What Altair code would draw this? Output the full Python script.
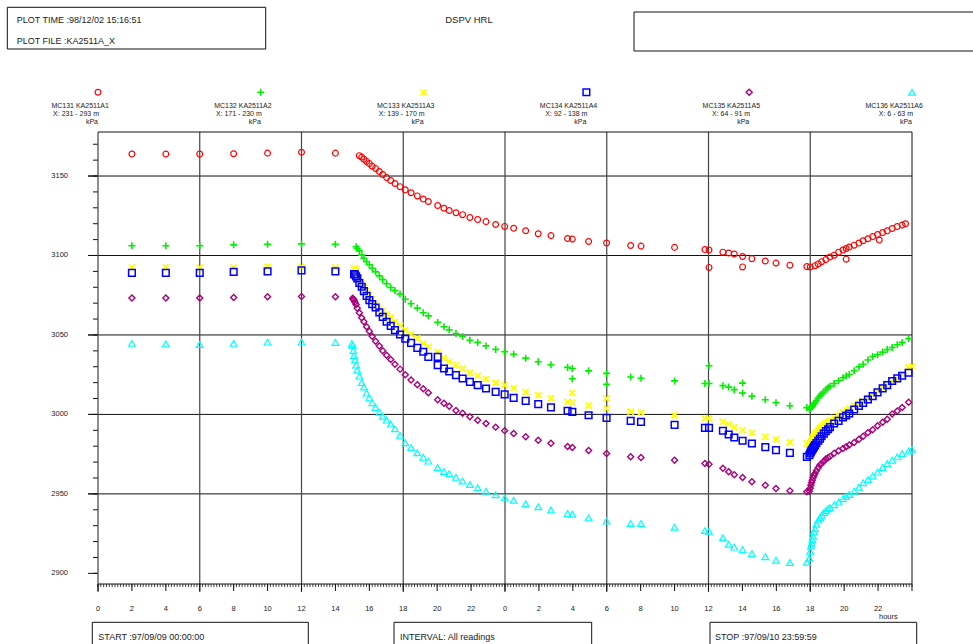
import altair as alt
import pandas as pd

# ---------------- data ----------------
HOURS_P1 = [2, 4, 6, 8, 10, 12, 14]
HOURS_P2 = [14.97, 15.02, 15.06, 15.10, 15.15, 15.22, 15.29,
            15.41, 15.55, 15.68, 15.84, 16.00, 16.17, 16.37, 16.59, 16.79, 17.02,
            17.26, 17.51, 17.81, 18.12, 18.46, 18.83, 19.18, 19.48, 20.03, 20.40,
            20.71, 21.11, 21.50, 21.93, 22.39, 22.88, 23.45, 23.98, 24.51, 25.22,
            25.96, 26.71, 27.69, 27.97, 28.93, 29.99, 31.41, 32.02, 34.00, 35.79,
            36.03, 36.85, 37.19, 37.52, 38.01, 38.56, 39.35, 39.98, 40.80, 41.80]
HOURS_P3 = [41.95, 42.00, 42.04, 42.08, 42.12, 42.17, 42.22, 42.28, 42.36, 42.47,
            42.57, 42.67, 42.80, 42.92, 43.05, 43.16, 43.41, 43.67, 43.93, 44.12,
            44.30, 44.59, 44.87, 45.12, 45.40, 45.68, 45.97, 46.27, 46.54, 46.83,
            47.13, 47.42, 47.80, 48.00]
N = None

RED_P1 = [3163.8, 3163.8, 3163.8, 3164.0, 3164.4, 3164.9, 3164.4]
RED_P2 = [N, N, N, N, N, N, N,
          3162.8, 3161.9, 3160.6, 3159.2, 3157.8, 3156.2, 3154.8, 3152.8, 3150.9, 3149.0,
          3147.2, 3145.3, 3143.3, 3141.3, 3139.5, 3137.5, 3135.5, 3134.0, 3131.4, 3129.7,
          3128.3, 3126.9, 3125.7, 3123.9, 3122.6, 3121.3, 3119.5, 3118.3, 3117.1, 3115.6,
          3113.7, 3112.5, 3110.7, 3110.3, 3108.8, 3107.8, 3106.3, 3105.9, 3105.1, 3103.7,
          3103.4, 3102.1, 3101.5, 3100.9, 3099.4, 3098.0, 3096.5, 3095.2, 3093.9, 3093.0]
RED_P3 = [N, 3092.8, N, N, N, N, N, 3093.6, N, 3094.7,
          N, 3096.1, N, 3097.4, N, 3099.0, 3100.2, 3102.1, 3103.4, 3104.4,
          3105.3, 3106.5, 3107.8, 3109.3, 3110.5, 3111.9, 3113.2, 3114.4, 3115.5, 3117.0,
          3118.2, 3119.1, N, N]
RED_XH = [36.03, 38.01, 44.12, 46.07, 47.62]
RED_XV = [3092.5, 3092.8, 3097.7, 3109.7, 3120.0]

GREEN_P1 = [3106.1, 3106.1, 3106.1, 3106.7, 3107.1, 3107.3, 3107.1]
GREEN_P2 = [N, N, N, N, N, 3105.5, 3104.4,
            3102.9, 3100.2, 3098.3, 3096.1, 3094.2, 3092.0, 3089.7, 3087.2, 3084.8, 3082.2,
            3079.9, 3077.9, 3075.7, 3072.5, 3069.7, 3066.9, 3064.0, 3062.0, 3057.9, 3055.2,
            3053.2, 3050.9, 3049.1, 3046.7, 3045.3, 3043.1, 3040.9, 3039.4, 3037.9, 3035.4,
            3033.1, 3031.3, 3029.6, 3028.9, 3027.4, 3025.8, 3023.5, 3022.8, 3021.1, 3019.5,
            3019.5, 3018.1, 3017.2, 3015.6, 3013.4, 3011.5, 3009.2, 3007.4, 3005.5, 3004.3]
GREEN_P3 = [3003.3, 3003.6, 3004.1, 3004.6, 3005.2, 3005.8, 3006.8, 3007.4, 3008.8, 3010.3,
            3011.7, 3012.9, 3014.1, 3015.6, 3016.8, 3017.8, 3019.5, 3021.2, 3023.1, 3024.2,
            3025.1, 3027.5, 3029.9, 3031.6, 3034.2, 3036.4, 3037.6, 3039.2, 3040.8, 3042.1,
            3043.8, 3045.3, 3047.7, N]
GREEN_XH = [27.97, 29.99, 36.03, 38.01]
GREEN_XV = [3022.4, 3018.9, 3030.6, 3019.7]

YELLOW_P1 = [3092.5, 3092.5, 3092.5, 3092.5, 3092.9, 3092.9, 3092.5]
YELLOW_P2 = [N, N, N, 3092.0, 3091.2, 3089.9, 3088.3,
             3085.7, 3082.6, 3080.1, 3077.6, 3075.0, 3072.5, 3069.7, 3067.2, 3065.0, 3063.1,
             3061.0, 3058.3, 3055.7, 3053.0, 3050.5, 3047.8, 3044.7, 3042.6, 3039.2, 3035.4,
             3033.2, 3031.0, 3028.9, 3026.2, 3024.4, 3022.2, 3019.9, 3018.4, 3016.5, 3014.0,
             3012.1, 3010.2, 3007.9, 3007.5, 3005.5, 3003.7, 3001.7, 3001.2, 2999.5, 2997.5,
             2997.5, 2995.3, 2993.9, 2991.8, 2990.1, 2988.4, 2986.0, 2984.2, 2982.5, 2981.6]
YELLOW_P3 = [2981.3, 2981.7, 2982.5, 2983.5, 2984.4, 2985.4, 2986.3, 2987.6, 2988.8, 2990.1,
             2991.3, 2992.4, 2993.4, 2994.6, 2995.6, 2996.4, 2997.8, 2999.2, 3001.1, 3002.7,
             3003.8, 3005.5, 3007.0, 3008.7, 3010.5, 3012.4, 3014.7, 3016.7, 3018.4, 3020.3,
             3022.2, 3025.3, 3029.7, 3030.4]
YELLOW_XH = [27.97, 29.99]
YELLOW_XV = [3013.6, 3010.0]

BLUE_P1 = [3089.1, 3089.1, 3089.1, 3089.7, 3090.0, 3090.6, 3090.0]
BLUE_P2 = [N, N, N, 3088.3, 3088.1, 3086.9, 3085.6,
           3082.8, 3080.3, 3077.6, 3074.6, 3071.9, 3069.4, 3067.3, 3064.2, 3061.4, 3058.3,
           3055.7, 3053.0, 3050.3, 3047.6, 3045.0, 3041.9, 3039.4, 3036.2, 3031.0, 3028.9,
           3027.0, 3024.7, 3022.6, 3020.5, 3018.4, 3016.3, 3014.2, 3012.6, 3010.4, 3008.5,
           3006.5, 3004.4, 3002.3, 3001.6, 2999.5, 2997.8, 2995.9, 2995.3, 2993.4, 2991.5,
           2991.5, 2989.7, 2987.4, 2985.5, 2983.4, 2981.7, 2979.4, 2977.5, 2975.8, 2973.3]
BLUE_P3 = [2974.4, 2975.6, 2976.6, 2977.3, 2977.9, 2978.8, 2979.7, 2980.7, 2981.9, 2983.4,
           2984.7, 2986.3, 2987.9, 2989.5, 2990.7, 2992.0, 2994.3, 2995.9, 2998.1, 2999.3,
           3000.6, 3003.1, 3005.4, 3007.3, 3009.4, 3011.5, 3013.9, 3016.4, 3018.4, 3021.0,
           3022.7, 3024.3, 3026.2, N]
BLUE_XH = [20.03]
BLUE_XV = [3036.2]

PURPLE_P1 = [3073.2, 3073.2, 3073.2, 3073.6, 3074.0, 3074.2, 3074.0]
PURPLE_P2 = [N, 3073.1, 3072.5, 3071.9, 3070.6, 3069.1, 3066.8,
             3064.0, 3060.8, 3058.3, 3055.2, 3052.4, 3049.2, 3046.1, 3043.1, 3040.0, 3037.3,
             3034.5, 3031.6, 3028.5, 3025.0, 3021.6, 3018.7, 3016.2, 3013.7, 3009.3, 3007.1,
             3005.2, 3002.4, 3000.8, 2998.5, 2996.4, 2994.3, 2992.0, 2989.8, 2988.0, 2986.0,
             2983.8, 2981.9, 2979.8, 2979.2, 2977.3, 2975.4, 2973.3, 2972.9, 2971.2, 2969.1,
             2968.7, 2966.2, 2964.0, 2962.1, 2960.3, 2957.7, 2955.5, 2953.4, 2951.9, 2951.4]
PURPLE_P3 = [2951.7, 2953.6, 2955.5, 2957.1, 2958.6, 2960.2, 2961.5, 2962.9, 2964.6, 2966.5,
             2968.1, 2969.2, 2970.6, 2971.9, 2972.8, 2973.6, 2975.5, 2977.1, 2978.6, 2979.6,
             2980.8, 2982.4, 2984.4, 2986.3, 2988.4, 2990.3, 2992.8, 2995.1, 2997.0, 3000.2,
             3002.1, 3004.3, 3007.7, N]
PURPLE_XH = []
PURPLE_XV = []

CYAN_P1 = [3044.7, 3044.4, 3044.0, 3044.7, 3045.5, 3045.5, 3045.3]
CYAN_P2 = [3044.5, 3043.3, 3040.1, 3037.0, 3034.2, 3031.0, 3027.9,
           3024.1, 3020.0, 3017.2, 3013.4, 3010.4, 3007.4, 3004.4, 3001.4, 2998.9, 2996.4,
           2993.9, 2991.0, 2986.9, 2982.2, 2979.1, 2975.9, 2973.1, 2970.6, 2966.6, 2964.1,
           2962.7, 2960.5, 2958.1, 2955.9, 2953.9, 2951.7, 2949.4, 2947.5, 2946.0, 2943.8,
           2941.9, 2939.9, 2937.7, 2937.2, 2934.9, 2933.0, 2931.4, 2931.4, 2929.0, 2926.9,
           2926.5, 2922.4, 2918.3, 2916.5, 2914.9, 2912.4, 2910.5, 2908.3, 2906.8, 2907.0]
CYAN_P3 = [2909.5, 2913.9, 2917.1, 2919.0, 2921.2, 2923.4, 2926.1, 2928.1, 2930.9, 2933.5,
           2935.2, 2936.6, 2938.2, 2939.4, 2940.7, 2941.3, 2943.2, 2944.8, 2947.0, 2948.3,
           2949.6, 2951.7, 2954.2, 2957.0, 2959.0, 2961.3, 2963.7, 2966.6, 2969.1, 2971.2,
           2973.3, 2975.4, 2977.0, 2978.1]
CYAN_XH = []
CYAN_XV = []

SENSORS = ["MC131 KA2511A1", "MC132 KA2511A2", "MC133 KA2511A3",
           "MC134 KA2511A4", "MC135 KA2511A5", "MC136 KA2511A6"]
RANGES = ["X: 231 - 293 m", "X: 171 - 230 m", "X: 139 - 170 m",
          "X: 92 - 138 m", "X: 64 - 91 m", "X: 6 - 63 m"]
LEGEND_H = [0, 9.6, 19.2, 28.8, 38.4, 48.0]

Y_MAJOR = [2900, 2950, 3000, 3050, 3100, 3150]
Y_GRID = [2950, 3000, 3050, 3100, 3150]
X_GRID = [0, 6, 12, 18, 24, 30, 36, 42]
X_LABEL_H = list(range(0, 47, 2))

# ---------------- styles ----------------
PLUS = "M-1,0L1,0M0,-1L0,1"
CROSS = "M-1,-1L1,1M-1,1L1,-1"
STYLES = [
    dict(color="#ff0000", shape="circle", size=34, sw=1.2),
    dict(color="#00f000", shape=PLUS, size=49, sw=1.6),
    dict(color="#ffff00", shape=CROSS, size=36, sw=1.9),
    dict(color="#0000ff", shape="square", size=44, sw=1.5),
    dict(color="#a8007a", shape="diamond", size=36, sw=1.4),
    dict(color="#00ffff", shape="triangle-up", size=44, sw=1.2),
]
SERIES_DATA = [
    (RED_P1, RED_P2, RED_P3, RED_XH, RED_XV),
    (GREEN_P1, GREEN_P2, GREEN_P3, GREEN_XH, GREEN_XV),
    (YELLOW_P1, YELLOW_P2, YELLOW_P3, YELLOW_XH, YELLOW_XV),
    (BLUE_P1, BLUE_P2, BLUE_P3, BLUE_XH, BLUE_XV),
    (PURPLE_P1, PURPLE_P2, PURPLE_P3, PURPLE_XH, PURPLE_XV),
    (CYAN_P1, CYAN_P2, CYAN_P3, CYAN_XH, CYAN_XV),
]

W, H = 814, 452
FONT = "Liberation Sans"
TXT = "#222222"
xs = alt.Scale(domain=[0, 48], nice=False, zero=False)
ys = alt.Scale(domain=[2893.3, 3177.7], nice=False, zero=False)
one = pd.DataFrame({"a": [0]})


def X(f="h"):
    return alt.X(f + ":Q", scale=xs, axis=None)


def Y(f="v"):
    return alt.Y(f + ":Q", scale=ys, axis=None)


layers = []

# grid lines and frame
layers.append(alt.Chart(pd.DataFrame({"v": Y_GRID})).mark_rule(color="#111", strokeWidth=1)
              .encode(y=Y(), x=alt.value(-10), x2=alt.value(W)))
layers.append(alt.Chart(pd.DataFrame({"v": Y_MAJOR})).mark_rule(color="#111", strokeWidth=1)
              .encode(y=Y(), x=alt.value(-10), x2=alt.value(0)))
layers.append(alt.Chart(pd.DataFrame({"v": list(range(2900, 3171, 10))})).mark_rule(color="#111", strokeWidth=1)
              .encode(y=Y(), x=alt.value(-5), x2=alt.value(0)))
layers.append(alt.Chart(pd.DataFrame({"h": X_GRID})).mark_rule(color="#444", strokeWidth=1.2)
              .encode(x=X(), y=alt.value(0), y2=alt.value(H + 8)))
layers.append(alt.Chart(one).mark_rule(color="#111", strokeWidth=1)
              .encode(x=alt.value(W), y=alt.value(0), y2=alt.value(H)))
layers.append(alt.Chart(one).mark_rule(color="#111", strokeWidth=1)
              .encode(y=alt.value(0), x=alt.value(0), x2=alt.value(W)))
layers.append(alt.Chart(one).mark_rule(color="#111", strokeWidth=1)
              .encode(y=alt.value(H), x=alt.value(0), x2=alt.value(W)))
layers.append(alt.Chart(pd.DataFrame({"h": [i / 6 for i in range(0, 289)]})).mark_rule(color="#111", strokeWidth=0.8)
              .encode(x=X(), y=alt.value(H), y2=alt.value(H + 3)))
layers.append(alt.Chart(pd.DataFrame({"h": list(range(0, 49, 2))})).mark_rule(color="#111", strokeWidth=1)
              .encode(x=X(), y=alt.value(H), y2=alt.value(H + 7)))

# axis labels
layers.append(alt.Chart(pd.DataFrame({"v": Y_MAJOR, "t": [str(v) for v in Y_MAJOR]}))
              .mark_text(align="right", baseline="middle", font=FONT, fontSize=7.5, color=TXT)
              .encode(y=Y(), x=alt.value(-30), text="t:N"))
layers.append(alt.Chart(pd.DataFrame({"h": X_LABEL_H, "t": [str(h % 24) for h in X_LABEL_H]}))
              .mark_text(align="center", baseline="alphabetic", font=FONT, fontSize=7.5, color=TXT)
              .encode(x=X(), y=alt.value(479), text="t:N"))
layers.append(alt.Chart(one).mark_text(align="left", baseline="alphabetic", font=FONT, fontSize=7.5, color=TXT,
                                       text="hours")
              .encode(x=alt.value(781), y=alt.value(487)))

# data series
for (p1, p2, p3, xh, xv), st in zip(SERIES_DATA, STYLES):
    hh = HOURS_P1 + HOURS_P2 + HOURS_P3 + xh
    vv = p1 + p2 + p3 + xv
    df = pd.DataFrame({"h": hh, "v": vv}).dropna()
    layers.append(alt.Chart(df).mark_point(shape=st["shape"], filled=False, color=st["color"],
                                           size=st["size"], strokeWidth=st["sw"], opacity=1)
                  .encode(x=X(), y=Y()))

# legend
for i, st in enumerate(STYLES):
    d = pd.DataFrame({"h": [LEGEND_H[i]], "a": [SENSORS[i]], "b": [RANGES[i]], "c": ["kPa"]})
    base = alt.Chart(d)
    layers.append(base.mark_point(shape=st["shape"], filled=False, color=st["color"],
                                  size=st["size"], strokeWidth=st["sw"], opacity=1)
                  .encode(x=X(), y=alt.value(-39.7)))
    layers.append(base.mark_text(align="left", baseline="alphabetic", dx=-46.6, font=FONT, fontSize=7, color=TXT)
                  .encode(x=X(), y=alt.value(-24.5), text="a:N"))
    layers.append(base.mark_text(align="right", baseline="alphabetic", dx=1, font=FONT, fontSize=7, color=TXT)
                  .encode(x=X(), y=alt.value(-16), text="b:N"))
    layers.append(base.mark_text(align="right", baseline="alphabetic", dx=0, font=FONT, fontSize=7, color=TXT)
                  .encode(x=X(), y=alt.value(-8.5), text="c:N"))

# header / footer boxes
BOXES = [(-90.7, 167.7, -124.7, -83), (536, 880, -120, -81),
         (-5.7, 210.3, 490.3, 520), (296, 493.7, 490.3, 520), (612, 818.7, 490.3, 520)]
for x1, x2, y1, y2 in BOXES:
    layers.append(alt.Chart(one).mark_rect(fillOpacity=0, stroke="#111", strokeWidth=1)
                  .encode(x=alt.value(x1), x2=alt.value(x2), y=alt.value(y1), y2=alt.value(y2)))

TEXTS = [("PLOT TIME :98/12/02 15:16:51", -81.3, -108.7, "left", 9),
         ("PLOT FILE :KA2511A_X", -81.3, -88, "left", 9),
         ("DSPV HRL", 371, -109, "center", 9.5),
         ("START :97/09/09 00:00:00", 0.3, 508, "left", 9),
         ("INTERVAL: All readings", 302, 508, "left", 9),
         ("STOP :97/09/10 23:59:59", 617, 508, "left", 9)]
for t, x, y, al, fs in TEXTS:
    layers.append(alt.Chart(one).mark_text(text=t, align=al, baseline="alphabetic", font=FONT,
                                           fontSize=fs, color=TXT)
                  .encode(x=alt.value(x), y=alt.value(y)))

chart = alt.layer(*layers).properties(
    width=W, height=H,
    autosize=alt.AutoSizeParams(type="none"),
    padding={"left": 98, "top": 132, "right": 61, "bottom": 60},
    background="white",
).configure_view(stroke=None)

chart.save("out.html", embed_options={"renderer": "svg", "actions": False})
